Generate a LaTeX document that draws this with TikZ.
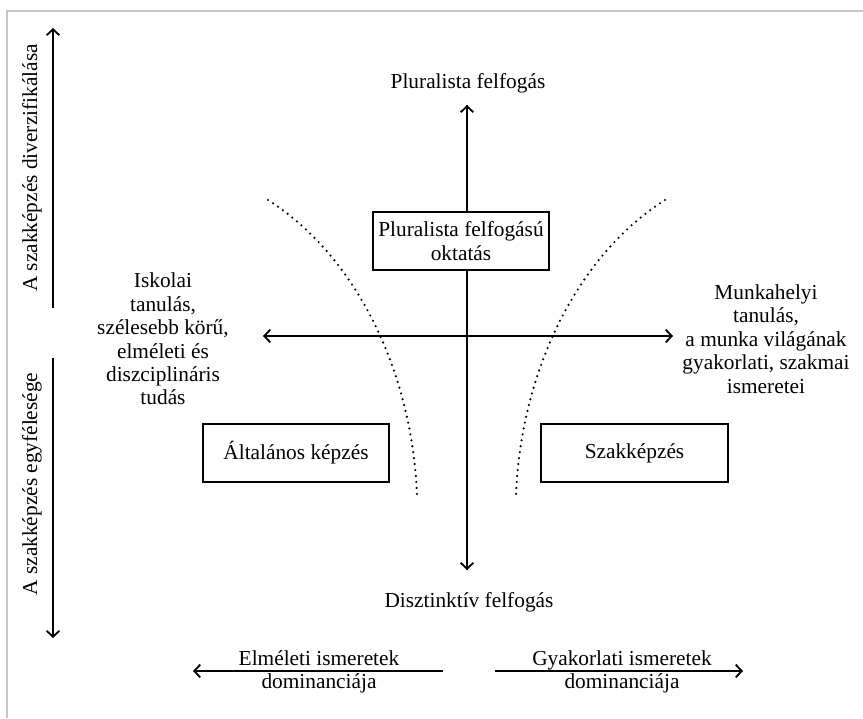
\documentclass[tikz,border=0pt]{standalone}
\usepackage{fontspec}
\setmainfont{Liberation Serif}
\usetikzlibrary{arrows.meta}
\begin{document}
\begin{tikzpicture}[x=0.75pt,y=-0.75pt,
  every node/.style={font=\fontsize{16}{17.6}\selectfont, inner sep=0pt},
  axis/.style={line width=1.35pt, -{Straight Barb[length=4.5pt,width=9.5pt,line width=1.35pt]}},
  biaxis/.style={line width=1.35pt, {Straight Barb[length=4.5pt,width=9.5pt,line width=1.35pt]}-{Straight Barb[length=4.5pt,width=9.5pt,line width=1.35pt]}},
  tbox/.style={draw, line width=1pt, align=center},
  lbl/.style={align=center},
  dotline/.style={line width=1.8pt, line cap=round, dash pattern=on 0pt off 4.5pt},
  frameline/.style={draw=black!22, line width=1.2pt}]
\useasboundingbox (0,0) rectangle (863,718);
% outer frame (top and left edges)
\draw[frameline] (7,718) -- (7,11) -- (863,11);

% left scale: diversification / uniformity
\coordinate (lu0) at (53,308);
\coordinate (lu1) at (53,28);
\coordinate (ld0) at (53,358);
\coordinate (ld1) at (53,638);
\draw[axis] (lu0) -- (lu1);
\draw[axis] (ld0) -- (ld1);
\node[rotate=90] (div) at (32,168) {A szakképzés diverzifikálása};
\node[rotate=90] (egy) at (32,484) {A szakképzés egyfélesége};

% central cross
\node (plur) at (468,83) {Pluralista felfogás};
\node (diszt) at (469,602) {Disztinktív felfogás};
\coordinate (vt) at (467,105);
\coordinate (vb) at (467,570);
\draw[axis] (vb) -- (vt);
\draw[axis] (vt) -- (vb);
\coordinate (hl) at (263,336);
\coordinate (hr) at (673,336);
\draw[biaxis] (hl) -- (hr);

% boxes
\node[tbox, fill=white, minimum width=176*0.75pt, minimum height=58*0.75pt] (pfo) at (461,241) {Pluralista felfogású\\oktatás};
\node[tbox, minimum width=186*0.75pt, minimum height=58*0.75pt] (alt) at (296,453) {Általános képzés};
\node[tbox, minimum width=187*0.75pt, minimum height=58*0.75pt] (szak) at (634.5,453) {Szakképzés};

% side descriptions
\node[lbl] (isk) at (163,339) {Iskolai\\tanulás,\\szélesebb körű,\\elméleti és\\diszciplináris\\tudás};
\node[lbl] (munk) at (766,339) {Munkahelyi\\tanulás,\\a munka világának\\gyakorlati, szakmai\\ismeretei};

% dotted boundaries (mirror images about the vertical axis)
\coordinate (dl0) at (268,200);
\coordinate (dl1) at (417,495);
\coordinate (dr0) at (665,200);
\coordinate (dr1) at (516,495);
\draw[dotline] (dl0) .. controls (355,255) and (412,370) .. (dl1);
\draw[dotline] (dr0) .. controls (578,255) and (521,370) .. (dr1);

% bottom dominance arrows
\coordinate (bl0) at (443,671);
\coordinate (bl1) at (193,671);
\coordinate (br0) at (495,671);
\coordinate (br1) at (743,671);
\draw[axis] (bl0) -- (bl1);
\draw[axis] (br0) -- (br1);
\node[lbl] (elm) at (319,672) {Elméleti ismeretek\\dominanciája};
\node[lbl] (gyak) at (622,672) {Gyakorlati ismeretek\\dominanciája};
\end{tikzpicture}
\end{document}
